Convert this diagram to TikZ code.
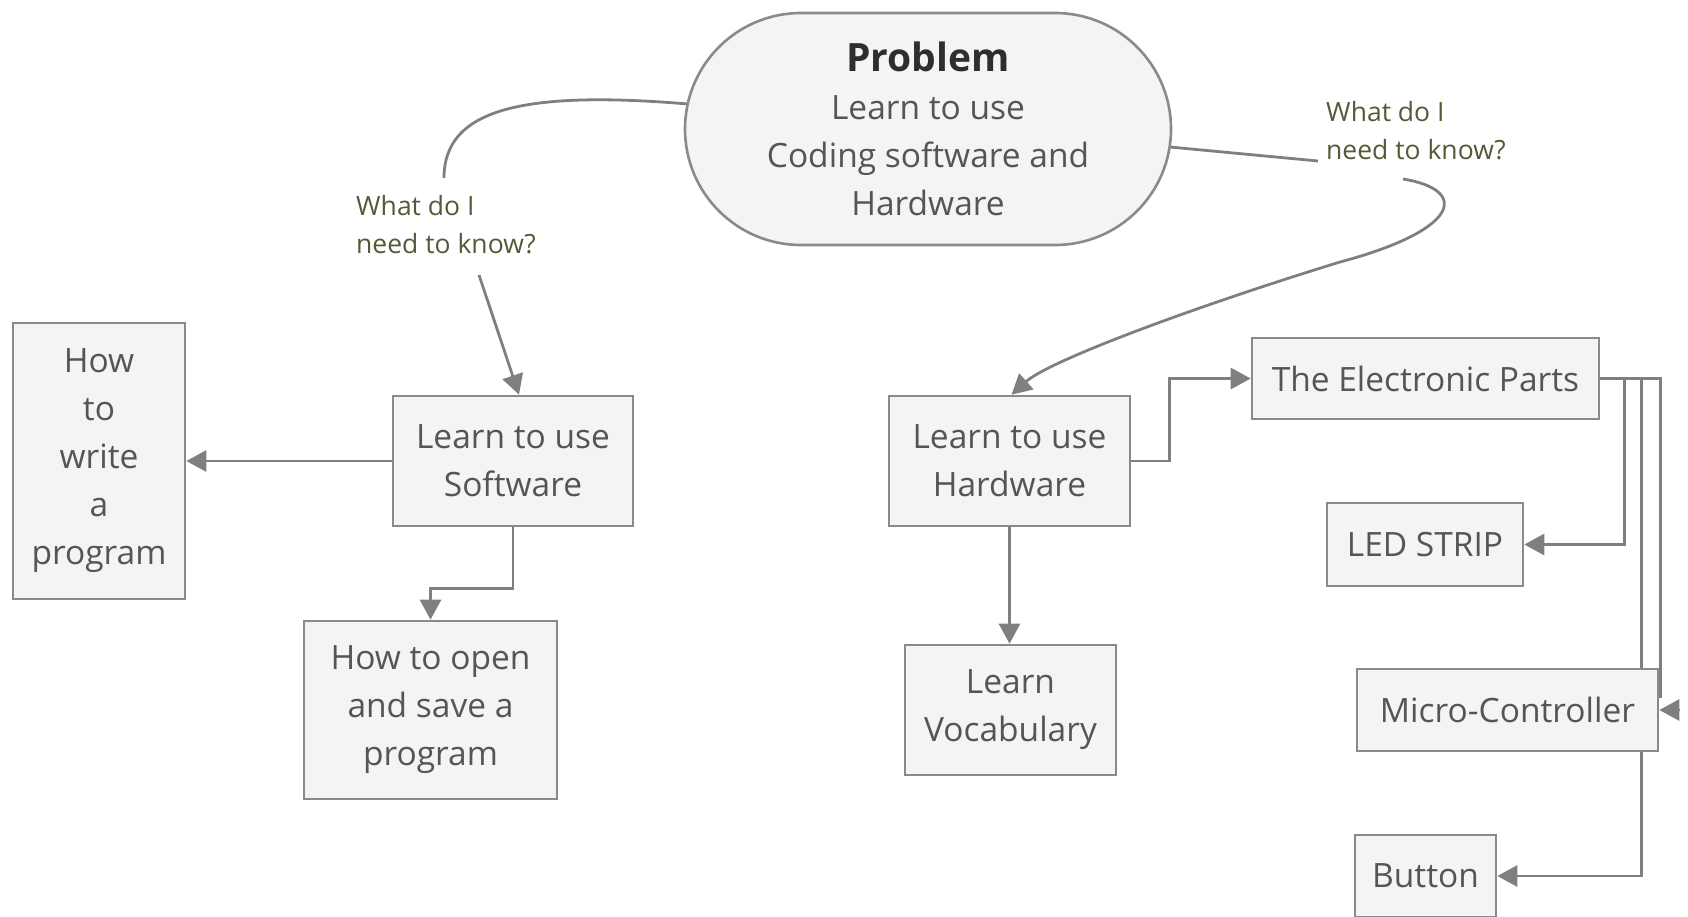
\documentclass[tikz,border=0pt]{standalone}
\usepackage{fontspec}
\setmainfont{Open Sans}
\usetikzlibrary{arrows.meta,backgrounds,calc}
\definecolor{boxfill}{HTML}{F4F4F4}
\definecolor{boxline}{HTML}{8A8A8A}
\definecolor{txt}{HTML}{555555}
\definecolor{titletxt}{HTML}{2E2E2E}
\definecolor{conncol}{HTML}{7F7F7F}
\definecolor{lblcol}{HTML}{585838}
\begin{document}
\begin{tikzpicture}[x=1pt,y=-1pt,
  stepbox/.style={draw=boxline,fill=boxfill,line width=2.6pt,inner sep=0pt,align=center,text=txt,font=\fontsize{33.5}{48}\selectfont},
  conn/.style={draw=conncol,line width=2.8pt,-{Triangle[length=20pt,width=21pt]}},
  plainconn/.style={draw=conncol,line width=2.8pt},
  lbltext/.style={text=lblcol,font=\fontsize{26.5}{38}\selectfont,align=left,inner sep=0pt,anchor=west}]
\useasboundingbox (0,0) rectangle (1688,916);

% nodes
\node[stepbox,minimum width=486pt,minimum height=232pt,rounded corners=116pt] (prob) at (928,129)
  {{\fontsize{39}{48}\selectfont\bfseries\color{titletxt}Problem}\\Learn to use\\Coding software and\\Hardware};
\node[stepbox,minimum width=172pt,minimum height=276pt] (write) at (99,461) {How\\to\\write\\a\\program};
\node[stepbox,minimum width=240pt,minimum height=130pt] (sw) at (513,461) {Learn to use\\Software};
\node[stepbox,minimum width=253pt,minimum height=178pt] (open) at (430.5,710) {How to open\\and save a\\program};
\node[stepbox,minimum width=241pt,minimum height=130pt] (hw) at (1009.5,461) {Learn to use\\Hardware};
\node[stepbox,minimum width=211pt,minimum height=130pt] (voc) at (1010.5,710) {Learn\\Vocabulary};
\node[stepbox,minimum width=347pt,minimum height=81pt] (ep) at (1425.5,378.5) {The Electronic Parts};
\node[stepbox,minimum width=196pt,minimum height=83pt] (led) at (1425,544.5) {LED STRIP};
\node[stepbox,minimum width=301pt,minimum height=82pt] (mc) at (1507.5,710) {Micro-Controller};
\node[stepbox,minimum width=141pt,minimum height=82pt] (btn) at (1425.5,876) {Button};

\node[lbltext] (ql) at (356,225) {What do I\\need to know?};
\node[lbltext] (qr) at (1326,131) {What do I\\need to know?};

\coordinate (pl) at (688,104);
\coordinate (qlt) at (444,178);
\coordinate (qlb) at (479,275);
\coordinate (pr) at (1170,147);
\coordinate (qrl) at (1318,161);
\coordinate (qrb) at (1403,179);

\begin{scope}[on background layer]
  \draw[plainconn] (pl) .. controls (520,90) and (444,110) .. (qlt);
  \draw[conn] (qlb) -- ($(sw.north)+(6,0)$);
  \draw[plainconn] (pr) -- (qrl);
  \draw[conn] (qrb) .. controls (1470,190) and (1460,230) .. (1340,262)
     .. controls (1200,305) and (1050,360) .. ($(hw.north)+(2,0)$);
  \draw[conn] (sw.west) -- (write.east);
  \draw[conn] (sw.south) -- ++(0,61) -| (open.north);
  \draw[conn] (hw.south) -- (hw.south |- voc.north);
  \draw[conn] (hw.east) -- ++(38,0) |- (ep.west);
  \draw[conn] (ep.east) -- ++(24,0) |- (led.east);
  \draw[conn] (ep.east) -- ++(41,0) |- (btn.east);
  \draw[plainconn] (ep.east) -| ($(mc.east)+(1,-12)$);
  \draw[conn] ($(mc.east)+(21,0)$) -- (mc.east);
\end{scope}
\end{tikzpicture}
\end{document}
